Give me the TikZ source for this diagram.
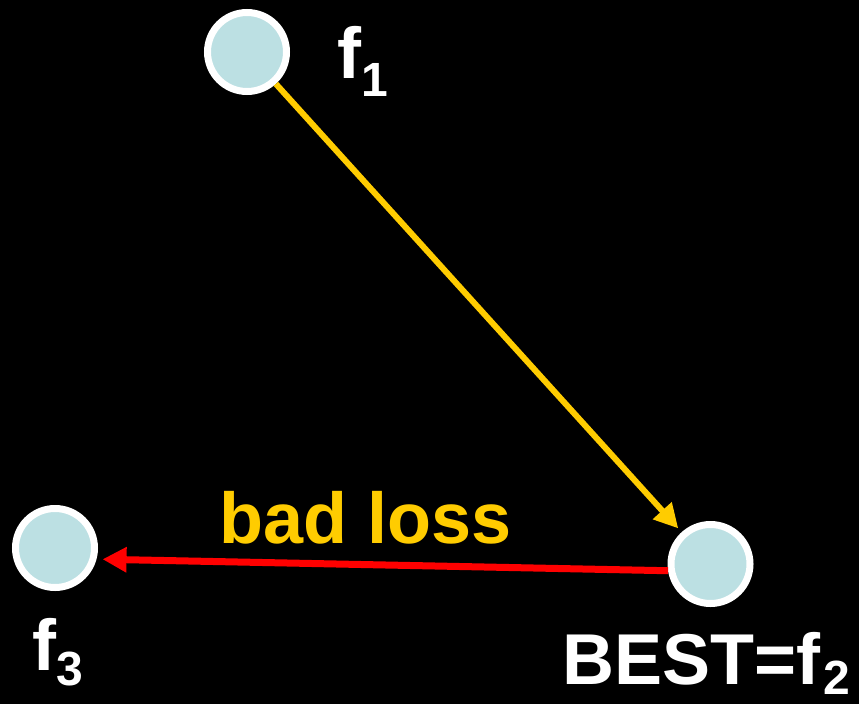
\documentclass[tikz,border=0pt]{standalone}
\usepackage{fontspec}
\setmainfont{Liberation Sans}
\usetikzlibrary{arrows.meta}
\definecolor{dotblue}{HTML}{BCE0E3}
\definecolor{lossyellow}{HTML}{FFCC00}
\definecolor{lossred}{HTML}{FF0000}
\newcommand{\lowsub}[2]{\raisebox{-#1pt}{\fontsize{48}{48}\selectfont#2}}

\begin{document}
\begin{tikzpicture}[x=1pt,y=-1pt]
% Background
\fill[black] (0,0) rectangle (859,704);
\useasboundingbox (0,0) rectangle (859,704);
% Points
\node[circle,draw=white,line width=7pt,fill=dotblue,minimum size=79pt,inner sep=0pt] (f1) at (247,52) {};
\node[circle,draw=white,line width=7pt,fill=dotblue,minimum size=79pt,inner sep=0pt] (f3) at (55,548) {};
\node[circle,draw=white,line width=7pt,fill=dotblue,minimum size=79pt,inner sep=0pt] (best) at (710.5,564) {};
% Arrows
\draw[-{Triangle[length=24pt,width=24pt]},line width=6pt,lossyellow,shorten >=5pt] (f1) -- (best);
\draw[-{Triangle[length=24pt,width=24pt]},line width=7pt,lossred,shorten >=6pt] (best.189) -- (f3.-15);
% Labels
\node[anchor=base west,inner sep=0pt,text=white,font=\fontsize{72}{72}\selectfont\bfseries] (f1lab) at (337,78) {f\lowsub{18}{1}};
\node[anchor=base west,inner sep=0pt,text=white,font=\fontsize{72}{72}\selectfont\bfseries] (f3lab) at (32,670) {f\lowsub{15}{3}};
\node[anchor=base west,inner sep=0pt,text=white,font=\fontsize{72}{72}\selectfont\bfseries] (bestlab) at (562,684) {BEST=f\kern3pt\lowsub{10}{2}};
\node[anchor=base west,inner sep=0pt,text=lossyellow,font=\fontsize{72}{72}\selectfont\bfseries] (loss) at (219,543) {bad loss};
\end{tikzpicture}
\end{document}
